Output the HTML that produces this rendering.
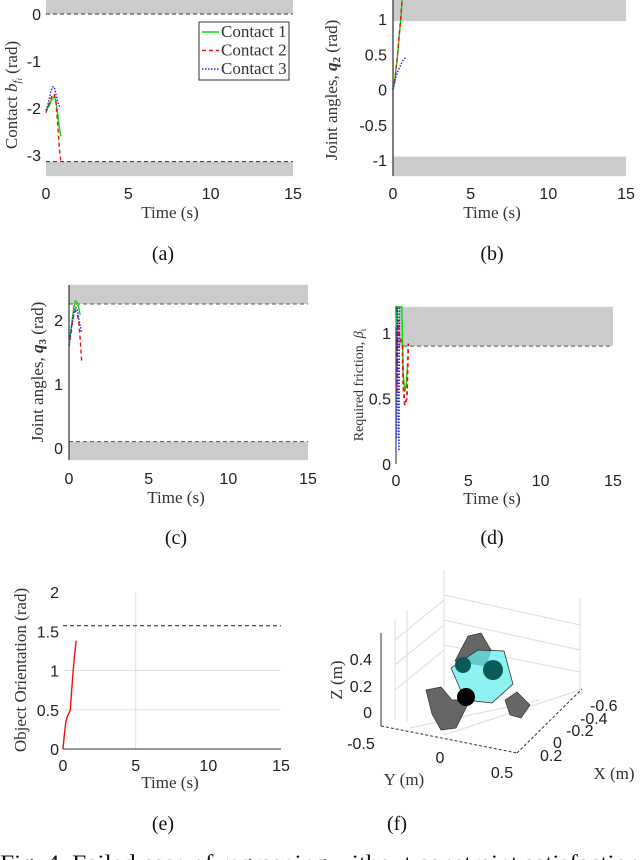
<!DOCTYPE html>
<html><head><meta charset="utf-8"><style>
html,body{margin:0;padding:0;background:#fff;}
svg{display:block;}
.tk{font-family:"Liberation Sans",sans-serif;font-size:16px;fill:#222;}
.lb{font-family:"Liberation Serif",serif;font-size:17px;fill:#333;}
.cap{font-family:"Liberation Serif",serif;font-size:20px;fill:#111;}
</style></head><body>
<svg id="fig" width="640" height="860" viewBox="0 0 640 860" xmlns="http://www.w3.org/2000/svg">
<g id="gA"></g>
<g id="gB"></g>
<g id="gC"></g>
<g id="gD"></g>
<g id="gE"></g>
<g id="gF">
  <g stroke="#ddd" stroke-width="1" fill="none">
    <line x1="395" y1="620" x2="395" y2="720"/><line x1="407" y1="610" x2="407" y2="722"/>
    <line x1="444" y1="570" x2="444" y2="735"/><line x1="580" y1="598" x2="580" y2="690"/>
    <line x1="444" y1="595" x2="580" y2="625"/><line x1="444" y1="620" x2="580" y2="650"/>
    <line x1="444" y1="645" x2="580" y2="672"/><line x1="395" y1="640" x2="444" y2="600"/>
    <line x1="395" y1="665" x2="444" y2="625"/><line x1="395" y1="690" x2="444" y2="650"/>
    <line x1="444" y1="735" x2="580" y2="690"/><line x1="410" y1="728" x2="540" y2="700"/>
  </g>
  <line x1="381" y1="633" x2="381" y2="726" stroke="#333"/>
  <line x1="381" y1="726" x2="517" y2="753" stroke="#333" stroke-dasharray="3,2"/>
  <line x1="517" y1="753" x2="582" y2="689" stroke="#333" stroke-dasharray="3,2"/>
  <polygon points="455,661 468,636 481,633 491,650 486,666" fill="#666" stroke="#333" stroke-width="0.7"/>
  <polygon points="426,690 441,687 452,700 470,700 456,728 441,730 432,714" fill="#666" stroke="#333" stroke-width="0.7"/>
  <polygon points="505,700 517,692 530,705 521,718 510,715" fill="#666" stroke="#333" stroke-width="0.7"/>
  <polygon points="451,668 478,650 504,651 513,684 492,703 465,700" fill="#66eeee" fill-opacity="0.75" stroke="#222" stroke-width="0.7"/>
  <circle cx="463" cy="665" r="8" fill="#0b5a5a"/>
  <circle cx="493" cy="670" r="10" fill="#0b5a5a"/>
  <circle cx="466" cy="697" r="9" fill="#000"/>
  <g class="tk">
    <text x="372" y="665" text-anchor="end">0.4</text>
    <text x="372" y="692" text-anchor="end">0.2</text>
    <text x="372" y="718" text-anchor="end">0</text>
    <text x="361" y="749" text-anchor="middle">-0.5</text>
    <text x="440" y="763" text-anchor="middle">0</text>
    <text x="502" y="778" text-anchor="middle">0.5</text>
    <text x="590" y="711">-0.6</text>
    <text x="580" y="724">-0.4</text>
    <text x="566" y="736">-0.2</text>
    <text x="553" y="748">0</text>
    <text x="540" y="761">0.2</text>
  </g>
  <text class="lb" x="404" y="785" text-anchor="middle">Y (m)</text>
  <text class="lb" x="614" y="779" text-anchor="middle">X (m)</text>
  <text class="lb" transform="translate(342,680) rotate(-90)" text-anchor="middle">Z (m)</text>
</g>
<g class="cap">
  <text x="163" y="260" text-anchor="middle">(a)</text>
  <text x="492" y="260" text-anchor="middle">(b)</text>
  <text x="176" y="544" text-anchor="middle">(c)</text>
  <text x="492" y="544" text-anchor="middle">(d)</text>
  <text x="163" y="830" text-anchor="middle">(e)</text>
  <text x="397" y="830" text-anchor="middle">(f)</text>
  <text x="0" y="870" textLength="640" lengthAdjust="spacingAndGlyphs" style="font-size:22px">Fig. 4. Failed case of regrasping without constraint satisfaction</text>
</g>
</svg>
<script>
const NS="http://www.w3.org/2000/svg";
// Panel a data
const tA1=[0,0.1,0.2,0.3,0.4,0.5,0.6,0.7,0.8,0.9];
const a1=[-2.05,-2.0,-1.95,-1.85,-1.8,-1.75,-1.85,-2.1,-2.4,-2.6];
const tA2=[0,0.1,0.2,0.3,0.4,0.5,0.6,0.7,0.8,0.85,0.9];
const a2=[-2.1,-2.0,-1.9,-1.8,-1.72,-1.7,-1.85,-2.3,-2.8,-3.0,-3.12];
const tA3=[0,0.1,0.2,0.3,0.4,0.5,0.6,0.7,0.8,0.9];
const a3=[-2.05,-1.95,-1.8,-1.65,-1.55,-1.55,-1.7,-1.85,-1.95,-2.0];
const aYTicks=[0,-1,-2,-3];
const xTicks=[0,5,10,15];
// Panel b data
const tB1=[0,0.1,0.2,0.3,0.4,0.5,0.6];
const b1=[0,0.1,0.3,0.5,0.75,1.0,1.3];
const tB2=[0,0.1,0.2,0.3,0.4,0.5,0.6];
const b2=[0,0.12,0.3,0.52,0.78,1.02,1.3];
const tB3=[0,0.1,0.2,0.3,0.4,0.5,0.6,0.7,0.8];
const b3=[0,0.1,0.18,0.25,0.3,0.35,0.4,0.43,0.45];
const bYTicks=[1,0.5,0,-0.5,-1];
// Panel c data
const tC1=[0,0.1,0.2,0.3,0.4,0.5,0.6,0.7];
const c1=[1.6,1.8,2.0,2.2,2.3,2.28,2.2,2.08];
const tC2=[0,0.1,0.2,0.3,0.4,0.5,0.6,0.7,0.8];
const c2=[1.58,1.75,1.95,2.08,2.15,2.1,2.0,1.7,1.35];
const tC3=[0,0.1,0.2,0.3,0.4,0.5,0.6,0.7,0.8];
const c3=[1.6,1.8,1.95,2.1,2.2,2.18,2.05,1.9,1.8];
const cYTicks=[2,1,0];
// Panel d data
const tD1=[0,0.05,0.1,0.4,0.45,0.5,0.6,0.7,0.8];
const d1=[1.05,1.15,1.2,1.2,0.95,0.7,0.55,0.6,0.75];
const tD2=[0.05,0.1,0.15,0.2,0.45,0.5,0.6,0.75,0.85];
const d2=[0.55,0.9,1.1,1.0,0.9,0.6,0.45,0.5,0.92];
const tD3=[0.05,0.08,0.1,0.15,0.2,0.25];
const d3=[0.2,0.9,1.2,0.5,0.1,1.2];
const dYTicks=[1,0.5,0];
// Panel e data
const tE=[0,0.1,0.2,0.3,0.4,0.5,0.6,0.7,0.8,0.9];
const e1=[0,0.2,0.35,0.42,0.45,0.5,0.75,1.0,1.2,1.38];
const eYTicks=[2,1.5,1,0.5,0];

function mk(tag,attrs,parent){const el=document.createElementNS(NS,tag);for(const k in attrs)el.setAttribute(k,attrs[k]);parent.appendChild(el);return el;}
function axes(x0,x1,y0,y1,px0,px1,py0,py1){
  return {x:v=>px0+(v-x0)/(x1-x0)*(px1-px0), y:v=>py0+(v-y0)/(y1-y0)*(py1-py0)};
}
function line(g,S,ts,vs,color,dash,name,w){
  const p=mk('polyline',{points:ts.map((t,i)=>S.x(t).toFixed(1)+','+S.y(vs[i]).toFixed(1)).join(' '),fill:'none',stroke:color,'stroke-width':w||1.4},g);
  if(dash)p.setAttribute('stroke-dasharray',dash);
  
  
}
function band(g,S,xa,xb,va,vb,name){
  const r=mk('rect',{x:S.x(xa),y:Math.min(S.y(va),S.y(vb)),width:S.x(xb)-S.x(xa),height:Math.abs(S.y(vb)-S.y(va)),fill:'#cccccc'},g);
  
  
}
function hdash(g,S,xa,xb,v,color){
  const l=mk('line',{x1:S.x(xa),x2:S.x(xb),y1:S.y(v),y2:S.y(v),stroke:color||'#333','stroke-dasharray':'4,3','stroke-width':1},g);
  
  
}
function ticks(g,S,yt,xt,ylab,xlabY,ytx,fmt){
  yt.forEach(v=>{const t=mk('text',{x:ytx,y:S.y(v)+6,'text-anchor':'end',class:'tk'},g);t.textContent=fmt?fmt(v):String(v);
    
    });
  xt.forEach(v=>{const t=mk('text',{x:S.x(v),y:xlabY,'text-anchor':'middle',class:'tk'},g);t.textContent=String(v);
    
    });
}
function labels(g,cx,ty,ylx,yly,ytext){
  const t=mk('text',{x:cx,y:ty,'text-anchor':'middle',class:'lb'},g);t.textContent='Time (s)';
  
  
  const y=mk('text',{transform:`translate(${ylx},${yly}) rotate(-90)`,'text-anchor':'middle',class:'lb'},g);y.innerHTML=ytext;
  
  
  return y;
}
const G='#00dd00',R='#ee1111',B='#2222ee';
// ---- Panel a
(function(){
  const g=document.getElementById('gA');
  const S=axes(0,15,0,-3,46,293,14,155);
  band(g,S,0,15,0.3,0,'upper-limit-band');band(g,S,0,15,-3.14,-3.45,'lower-limit-band');
  hdash(g,S,0,15,0);hdash(g,S,0,15,-3.14);
  line(g,S,tA1,a1,G,null,'contact-1-line');
  line(g,S,tA2,a2,R,'4,3','contact-2-line');
  line(g,S,tA3,a3,B,'1.5,1.5','contact-3-line');
  ticks(g,S,aYTicks,xTicks,null,199,41);
  labels(g,170,218,17,95,'Contact <tspan font-style="italic">b</tspan><tspan font-style="italic" font-size="11" dy="3">f</tspan><tspan font-size="8" font-style="italic" dy="2">i</tspan><tspan dy="-5"> (rad)</tspan>');
  const lg=mk('g',{},g);
  mk('rect',{x:199,y:22,width:90,height:58,fill:'#fff',stroke:'#333','stroke-width':1},lg);
  [['Contact 1',G,null],['Contact 2',R,'4,3'],['Contact 3',B,'1.5,1.5']].forEach((e,i)=>{
    const y=32+i*18.5;
    const l=mk('line',{x1:202,x2:219,y1:y,y2:y,stroke:e[1],'stroke-width':1.4},lg);if(e[2])l.setAttribute('stroke-dasharray',e[2]);
    const t=mk('text',{x:221,y:y+5,class:'lb','font-size':'14.5'},lg);t.textContent=e[0];
    
    
  });
})();
// ---- Panel b
(function(){
  const g=document.getElementById('gB');
  const S=axes(0,15,1,-1,393,626,19,160);
  band(g,S,0,15,1.27,0.97,'upper-limit-band');band(g,S,0,15,-0.95,-1.23,'lower-limit-band');
  hdash(g,S,0,15,-0.95,'#eee');
  mk('line',{x1:393,x2:393,y1:0,y2:176,stroke:'#555','stroke-width':1.5},g);
  const clip=mk('clipPath',{id:'clipB'},g);mk('rect',{x:390,y:0,width:240,height:176},clip);
  const lg=mk('g',{'clip-path':'url(#clipB)'},g);
  line(lg,S,tB1,b1,G,null,'contact-1-line');
  line(lg,S,tB2,b2,R,'4,3','contact-2-line');
  line(lg,S,tB3,b3,B,'1.5,1.5','contact-3-line');
  ticks(g,S,bYTicks,xTicks,null,199,387);
  labels(g,492,218,337,90,'Joint angles, <tspan font-weight="bold" font-style="italic">q</tspan><tspan font-weight="bold" font-size="11" dy="3">2</tspan><tspan dy="-3"> (rad)</tspan>');
})();
// ---- Panel c
(function(){
  const g=document.getElementById('gC');
  const S=axes(0,15,2,0,69,308,320,448);
  band(g,S,0,15,2.55,2.25,'upper-limit-band');band(g,S,0,15,0.1,-0.19,'lower-limit-band');
  hdash(g,S,0,15,2.25,'#555');hdash(g,S,0,15,0.1,'#555');
  mk('line',{x1:69,x2:69,y1:285,y2:460,stroke:'#333','stroke-width':1.2},g);
  line(g,S,tC1,c1,G,null,'contact-1-line');
  line(g,S,tC2,c2,R,'4,3','contact-2-line');
  line(g,S,tC3,c3,B,'1.5,1.5','contact-3-line');
  ticks(g,S,cYTicks,xTicks,null,484,63);
  labels(g,176,503,43,372,'Joint angles, <tspan font-weight="bold" font-style="italic">q</tspan><tspan font-weight="bold" font-size="11" dy="3">3</tspan><tspan dy="-3"> (rad)</tspan>');
})();
// ---- Panel d
(function(){
  const g=document.getElementById('gD');
  const S=axes(0,15,1,0,396,613,333,464);
  band(g,S,0,15,1.2,0.9,'friction-limit-band');
  hdash(g,S,0,15,0.9,'#555');
  mk('line',{x1:396,x2:396,y1:306,y2:464,stroke:'#222','stroke-width':1},g);
  line(g,S,tD1,d1,G,null,'contact-1-line');
  line(g,S,tD2,d2,R,'4,3','contact-2-line',1.8);
  line(g,S,tD3,d3,B,'1.5,1.5','contact-3-line');
  ticks(g,S,dYTicks,xTicks,null,486,391);
  const y=labels(g,492,504,363,385,'Required friction, <tspan font-style="italic">β</tspan><tspan font-size="9" dy="3">i</tspan>');
  y.setAttribute('font-size','14');
  y.style.fontSize='14px';
})();
// ---- Panel e
(function(){
  const g=document.getElementById('gE');
  const S=axes(0,15,0,2,63,281,749,592);
  [0.5,1].forEach(v=>{const l=mk('line',{x1:63,x2:281,y1:S.y(v),y2:S.y(v),stroke:'#e2e2e2'},g);});
  mk('line',{x1:S.x(5),x2:S.x(5),y1:592,y2:749,stroke:'#e2e2e2'},g);
  mk('line',{x1:63,x2:281,y1:749,y2:749,stroke:'#333'},g);
  hdash(g,S,0,15,1.5708,'#222');
  line(g,S,tE,e1,R,null,'orientation-line');
  ticks(g,S,eYTicks,xTicks,null,771,59,v=>String(v));
  labels(g,170,788,26,670,'Object Orientation (rad)');
})();
</script>
</body></html>
